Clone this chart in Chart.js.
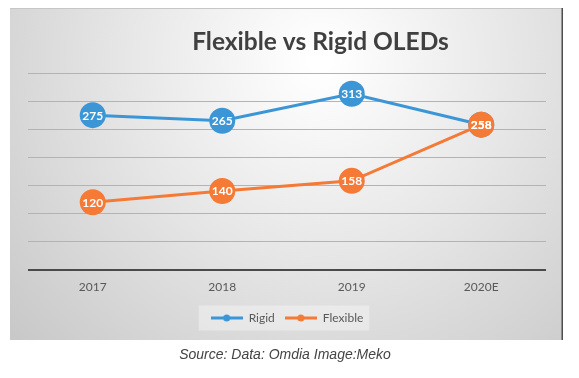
<!DOCTYPE html>
<html><head><meta charset="utf-8">
<script src="https://cdn.jsdelivr.net/npm/chart.js@4"></script>
<style>
html,body{margin:0;padding:0;background:#fff;width:579px;height:378px;overflow:hidden}
canvas{display:block}
</style></head>
<body>
<canvas id="c" width="579" height="378"></canvas>
<script>
const categories = ['2017', '2018', '2019', '2020E'];
const rigid = [275, 265, 313, 258];
const flexible = [120, 140, 158, 258];
const seriesNames = ['Rigid', 'Flexible'];
const yMin = 0, yMax = 350, yStep = 50;
const titleText = 'Flexible vs Rigid OLEDs';
const sourceText = 'Source: Data: Omdia Image:Meko';

const BLUE = '#3C96D6', ORANGE = '#F47A36';

function legendIcon(color){
  const c = document.createElement('canvas');
  c.width = 32; c.height = 8;
  const x = c.getContext('2d');
  x.strokeStyle = color; x.lineWidth = 3;
  x.beginPath(); x.moveTo(0,4); x.lineTo(32,4); x.stroke();
  x.fillStyle = color; x.beginPath(); x.arc(16,4,3.5,0,Math.PI*2); x.fill();
  return c;
}
const icons = [legendIcon(BLUE), legendIcon(ORANGE)];

const bgPlugin = {
  id: 'bg',
  beforeDraw(chart){
    const ctx = chart.ctx;
    ctx.save();
    ctx.fillStyle = '#fff';
    ctx.fillRect(0,0,chart.width,chart.height);
    const g = ctx.createRadialGradient(320,60,10,320,60,430);
    g.addColorStop(0,'#ffffff');
    g.addColorStop(0.45,'#e6e6e6');
    g.addColorStop(1,'#c6c6c6');
    ctx.fillStyle = g;
    ctx.fillRect(10,8,553,332);
    ctx.fillStyle = '#c6c6c6';
    ctx.fillRect(10,8,553,1);
    ctx.fillStyle = '#4d4d4d';
    ctx.fillRect(561.5,8,1.5,332);
    const hb = chart.legend && chart.legend.legendHitBoxes;
    if (hb && hb.length){
      let minX = Infinity, maxX = -Infinity, cy = 0;
      hb.forEach(b => { minX = Math.min(minX, b.left); maxX = Math.max(maxX, b.left + b.width); cy = b.top + b.height/2; });
      ctx.fillStyle = 'rgba(255,255,255,0.35)';
      ctx.fillRect(minX - 12, cy - 12.5, maxX - minX + 18, 25);
    }
    ctx.restore();
  },
  afterDraw(chart){
    const ctx = chart.ctx;
    ctx.save();
    ctx.fillStyle = '#404040';
    ctx.font = 'bold 24.5px Lato';
    ctx.textAlign = 'center';
    ctx.textBaseline = 'alphabetic';
    ctx.fillText(titleText, 320.5, 50);
    ctx.fillStyle = '#444';
    ctx.font = 'italic 14px "Liberation Sans"';
    ctx.fillText(sourceText, 285, 359);
    ctx.restore();
  }
};

const labelPlugin = {
  id: 'vals',
  afterDatasetsDraw(chart){
    const ctx = chart.ctx;
    ctx.save();
    ctx.fillStyle = '#fff';
    ctx.font = 'bold 12px Lato';
    ctx.textAlign = 'center';
    ctx.textBaseline = 'middle';
    chart.data.datasets.forEach((ds, i) => {
      const meta = chart.getDatasetMeta(i);
      meta.data.forEach((pt, j) => ctx.fillText(String(ds.data[j]), pt.x, pt.y + 0.5));
    });
    ctx.restore();
  }
};

new Chart(document.getElementById('c'), {
  type: 'line',
  data: {
    labels: categories,
    datasets: [
      { label: seriesNames[0], data: rigid, borderColor: BLUE, backgroundColor: BLUE,
        borderWidth: 3, pointRadius: 13, pointBorderWidth: 0, pointBackgroundColor: BLUE, order: 1, tension: 0 },
      { label: seriesNames[1], data: flexible, borderColor: ORANGE, backgroundColor: ORANGE,
        borderWidth: 3, pointRadius: 13, pointBorderWidth: 0, pointBackgroundColor: ORANGE, order: 0, tension: 0 }
    ]
  },
  options: {
    responsive: false,
    animation: false,
    events: [],
    layout: { padding: { left: 28, right: 33, top: 73, bottom: 44 } },
    scales: {
      x: {
        offset: true,
        grid: { display: false },
        border: { display: false },
        ticks: { color: '#595959', font: { family: 'Lato', size: 12 }, padding: 2 },
        afterFit(scale){ scale.height += 6; }
      },
      y: {
        min: yMin, max: yMax,
        ticks: { display: false, stepSize: yStep },
        border: { display: false },
        grid: {
          drawTicks: false,
          color: c => c.tick.value === 0 ? '#4a4a4a' : '#b3b3b3',
          lineWidth: c => c.tick.value === 0 ? 2 : 1
        }
      }
    },
    plugins: {
      title: { display: false },
      tooltip: { enabled: false },
      legend: {
        position: 'bottom',
        labels: {
          usePointStyle: true,
          pointStyleWidth: 32,
          color: '#595959',
          font: { family: 'Lato', size: 12 },
          padding: 10,
          generateLabels(chart){
            const items = Chart.defaults.plugins.legend.labels.generateLabels(chart);
            items.sort((a, b) => a.datasetIndex - b.datasetIndex);
            items.forEach(it => { it.pointStyle = icons[it.datasetIndex]; });
            return items;
          }
        }
      }
    }
  },
  plugins: [bgPlugin, labelPlugin]
});
</script>
</body></html>
